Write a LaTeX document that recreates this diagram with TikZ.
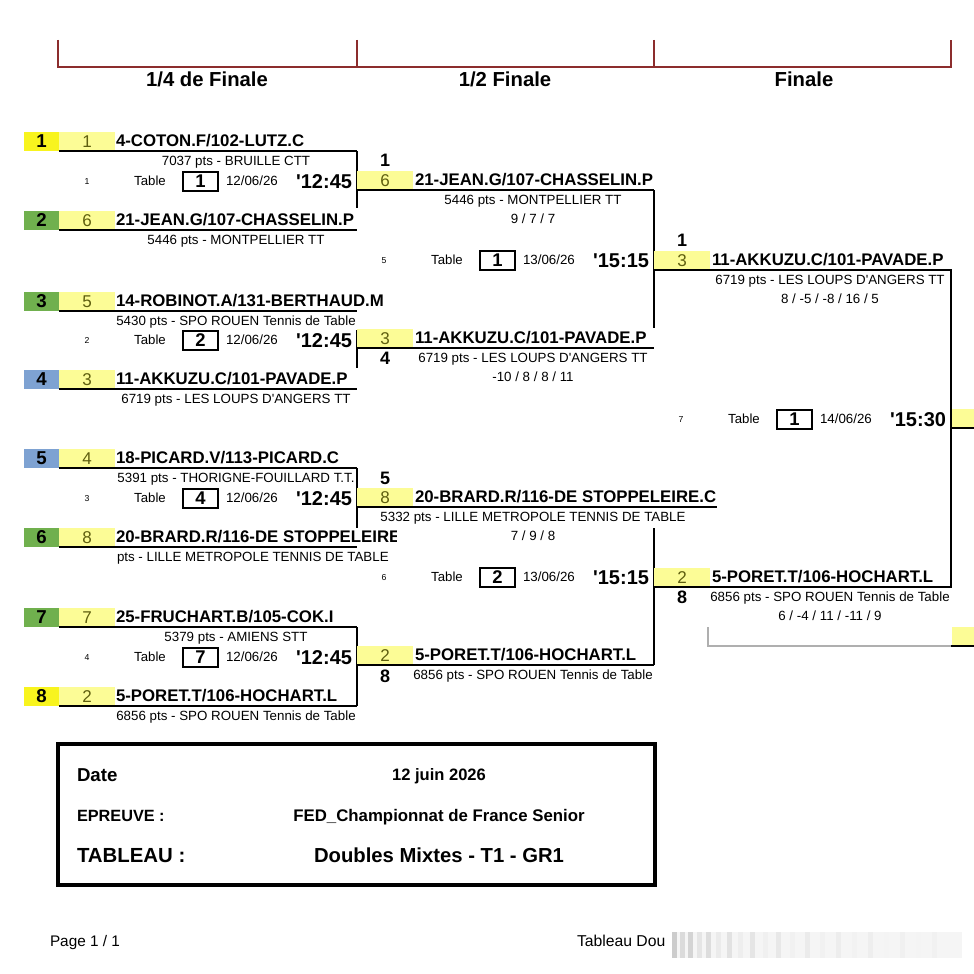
\documentclass[tikz,border=0pt]{standalone}
\usepackage{fontspec}
\setmainfont{Liberation Sans}
\newcommand\fsz[1]{\fontsize{#1}{#1}\selectfont}
\newcommand\aps{\textquotesingle}
\definecolor{hdrred}{RGB}{140,45,45}
\definecolor{seedyel}{RGB}{248,244,30}
\definecolor{paley}{RGB}{252,252,150}
\definecolor{seedgreen}{RGB}{112,176,78}
\definecolor{seedblue}{RGB}{126,162,210}
\definecolor{olivetxt}{RGB}{95,95,15}
\definecolor{thirdgray}{RGB}{175,175,175}
\tikzset{
  every node/.style={inner sep=0pt, outer sep=0pt},
  ln/.style={line width=1.1pt, black},
  seedf/.style={font=\bfseries\fsz{14}, anchor=base},
  palef/.style={font=\fsz{12.8}, text=olivetxt, anchor=base},
  namef/.style={font=\bfseries\fsz{12.6}, anchor=base west},
  infof/.style={font=\fsz{10}, anchor=base},
  tinyf/.style={font=\fsz{6.5}, anchor=base},
  tablef/.style={font=\fsz{9.9}, anchor=base},
  tboxf/.style={draw, line width=1.1pt, minimum width=26.25pt, minimum height=14.25pt, font=\bfseries\fsz{13.8}},
  datef/.style={font=\fsz{10}, anchor=base west},
  timef/.style={font=\bfseries\fsz{15}, anchor=base east},
  winf/.style={font=\bfseries\fsz{13.5}, anchor=base},
  hdrf/.style={font=\bfseries\fsz{15.2}, anchor=base},
  boxlbl/.style={font=\bfseries, anchor=base west},
  boxval/.style={font=\bfseries, anchor=base},
}
% quarter-final entry: #1 line y, #2 seed, #3 seed colour, #4 pale number, #5 name, #6 info
\newcommand\qfentry[6]{%
  \fill[#3] (24,#1-19) rectangle (59,#1);
  \fill[paley] (59,#1-19) rectangle (115,#1);
  \node[seedf] (qs#2) at (41.5,#1-3.5) {#2};
  \node[palef] (qp#2) at (87,#1-4) {#4};
  \node[namef] (qn#2) at (116,#1-4.5) {#5};
  \draw[ln] (59,#1) -- (357,#1);
  \node[infof] (qi#2) at (236,#1+14) {#6};
}
% later-round entry: #1 x of bracket, #2 line y, #3 pale number, #4 name, #5 info, #6 score, #7 id
\newcommand\laterentry[7]{%
  \fill[paley] (#1,#2-19) rectangle (#1+56,#2);
  \node[palef] (lp#7) at (#1+28,#2-4) {#3};
  \node[namef] (ln#7) at (#1+58,#2-4.5) {#4};
  \node[infof] (li#7) at (#1+176,#2+14) {#5};
  \node[infof] (ls#7) at (#1+176,#2+33) {#6};
}
% match row: #1 x offset, #2 y centre, #3 match number, #4 table, #5 date, #6 time
\newcommand\matchrow[6]{%
  \node[tinyf] (mn#3) at (87+#1,#2+3) {#3};
  \node[tablef] (mt#3) at (150+#1,#2+4.5) {Table};
  \node[tboxf] (mb#3) at (200.5+#1,#2+0.5) {#4};
  \node[datef] (md#3) at (226+#1,#2+4.5) {#5};
  \node[timef] (mh#3) at (352+#1,#2+7) {\aps#6};
}
\begin{document}
\begin{tikzpicture}[x=0.75pt,y=-0.75pt]
\useasboundingbox (0,0) rectangle (974,974);
\fill[white] (0,0) rectangle (974,974);

% header
\draw[hdrred, line width=1.2pt] (58,40) -- (58,67) -- (951,67) -- (951,40);
\draw[hdrred, line width=1.2pt] (357,40) -- (357,67);
\draw[hdrred, line width=1.2pt] (654,40) -- (654,67);
\node[hdrf] (h1) at (207,86) {1/4 de Finale};
\node[hdrf] (h2) at (505,86) {1/2 Finale};
\node[hdrf] (h3) at (804,86) {Finale};

% quarter-finals
\qfentry{151}{1}{seedyel}{1}{4-COTON.F/102-LUTZ.C}{7037 pts - BRUILLE CTT}
\qfentry{230}{2}{seedgreen}{6}{21-JEAN.G/107-CHASSELIN.P}{5446 pts - MONTPELLIER TT}
\qfentry{311}{3}{seedgreen}{5}{14-ROBINOT.A/131-BERTHAUD.M}{5430 pts - SPO ROUEN Tennis de Table}
\qfentry{389}{4}{seedblue}{3}{11-AKKUZU.C/101-PAVADE.P}{6719 pts - LES LOUPS D\aps ANGERS TT}
\qfentry{468}{5}{seedblue}{4}{18-PICARD.V/113-PICARD.C}{5391 pts - THORIGNE-FOUILLARD T.T.}
\qfentry{547}{6}{seedgreen}{8}{}{}
\begin{scope}
  \clip (110,520) rectangle (396,565);
  \node[namef] (qn6b) at (116,542.5) {20-BRARD.R/116-DE STOPPELEIRE.C};
  \node[infof, anchor=base west] (qi6b) at (117,561) {pts - LILLE METROPOLE TENNIS DE TABLE};
\end{scope}
\qfentry{627}{7}{seedgreen}{7}{25-FRUCHART.B/105-COK.I}{5379 pts - AMIENS STT}
\qfentry{706}{8}{seedyel}{2}{5-PORET.T/106-HOCHART.L}{6856 pts - SPO ROUEN Tennis de Table}

\draw[ln] (357,151) -- (357,208);
\draw[ln] (357,330) -- (357,368);
\draw[ln] (357,468) -- (357,528);
\draw[ln] (357,627) -- (357,706);

\matchrow{0}{181}{1}{1}{12/06/26}{12:45}
\matchrow{0}{340}{2}{2}{12/06/26}{12:45}
\matchrow{0}{498}{3}{4}{12/06/26}{12:45}
\matchrow{0}{657}{4}{7}{12/06/26}{12:45}

% semi-finals
\laterentry{357}{190}{6}{21-JEAN.G/107-CHASSELIN.P}{5446 pts - MONTPELLIER TT}{9 / 7 / 7}{a}
\laterentry{357}{348}{3}{11-AKKUZU.C/101-PAVADE.P}{6719 pts - LES LOUPS D\aps ANGERS TT}{-10 / 8 / 8 / 11}{b}
\laterentry{357}{507}{8}{20-BRARD.R/116-DE STOPPELEIRE.C}{5332 pts - LILLE METROPOLE TENNIS DE TABLE}{7 / 9 / 8}{c}
\laterentry{357}{665}{2}{5-PORET.T/106-HOCHART.L}{6856 pts - SPO ROUEN Tennis de Table}{}{d}
\draw[ln] (357,190) -- (654,190);
\draw[ln] (357,348) -- (654,348);
\draw[ln] (357,507) -- (717,507);
\draw[ln] (357,665) -- (654,665);
\draw[ln] (654,190) -- (654,328);
\draw[ln] (654,528) -- (654,665);
\node[winf] (wa) at (385,166) {1};
\node[winf] (wb) at (385,364) {4};
\node[winf] (wc) at (385,484) {5};
\node[winf] (wd) at (385,682) {8};

\matchrow{297}{260}{5}{1}{13/06/26}{15:15}
\matchrow{297}{577}{6}{2}{13/06/26}{15:15}

% final
\laterentry{654}{270}{3}{11-AKKUZU.C/101-PAVADE.P}{6719 pts - LES LOUPS D\aps ANGERS TT}{8 / -5 / -8 / 16 / 5}{e}
\laterentry{654}{587}{2}{5-PORET.T/106-HOCHART.L}{6856 pts - SPO ROUEN Tennis de Table}{6 / -4 / 11 / -11 / 9}{f}
\draw[ln] (654,270) -- (951,270) -- (951,587) -- (654,587);
\node[winf] (we) at (682,246) {1};
\node[winf] (wf) at (682,603) {8};
\matchrow{594}{419}{7}{1}{14/06/26}{15:30}

% winner and third place cells
\fill[paley] (952,409) rectangle (974,428);
\draw[ln] (951,428) -- (974,428);
\fill[paley] (952,627) rectangle (974,646);
\draw[thirdgray, line width=1.3pt] (708,627) -- (708,646) -- (951,646);
\draw[ln] (951,646) -- (974,646);

% information box
\draw[line width=2.3pt] (58,744) rectangle (655,885);
\node[boxlbl, font=\bfseries\fsz{14}] (lbd) at (77,781) {Date};
\node[boxval, font=\bfseries\fsz{12.4}] (vd) at (439,780) {12 juin 2026};
\node[boxlbl, font=\bfseries\fsz{12.2}] (lbe) at (77,821) {EPREUVE :};
\node[boxval, font=\bfseries\fsz{12.6}] (ve) at (439,821) {FED\_Championnat de France Senior};
\node[boxlbl, font=\bfseries\fsz{15.3}] (lbt) at (77,862) {TABLEAU :};
\node[boxval, font=\bfseries\fsz{15.2}] (vt) at (439,862) {Doubles Mixtes - T1 - GR1};

% footer
\node[anchor=base west, font=\fsz{11.5}] (pg) at (50,946) {Page 1 / 1};
\node[anchor=base west, font=\fsz{11.8}] (tb) at (577,946) {Tableau Dou};
\fill[gray!8] (672,932) rectangle (962,958);
\foreach \xx/\ss in {672/40,680/28,688/34,697/20,706/27,716/16,727/23,738/13,750/20,763/12,776/18,790/11,805/16,820/11,836/14,852/10,868/13,884/9,900/12,916/9,932/11,948/8}
  \fill[gray!\ss] (\xx,932) rectangle (\xx+5,958);
\end{tikzpicture}
\end{document}
